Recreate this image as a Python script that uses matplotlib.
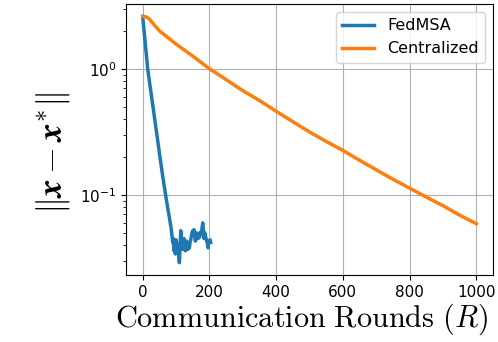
import matplotlib
matplotlib.use('Agg')
import matplotlib.pyplot as plt

# FedMSA: error vs communication rounds
fed_rounds = [0, 5, 10, 15, 20, 25, 30, 35, 40, 45, 50, 55, 60, 65, 70, 75, 80, 85,
              86, 88, 90, 92, 94, 96, 98, 100, 102, 104, 106, 108, 110, 112, 114, 116,
              118, 120, 122, 124, 126, 128, 130, 132, 134, 136, 138, 140, 142, 144,
              146, 148, 150, 152, 154, 156, 158, 160, 162, 164, 166, 168, 170, 172,
              174, 176, 178, 180, 182, 184, 186, 188, 190, 192, 194, 196, 198, 200,
              202, 204]
fed_err = [2.6, 1.9, 1.38, 1.0, 0.80, 0.645, 0.52, 0.417, 0.335, 0.27, 0.216, 0.174,
           0.141, 0.115, 0.095, 0.079, 0.066, 0.055,
           0.052, 0.047, 0.042, 0.045, 0.036, 0.040, 0.034, 0.044, 0.040, 0.037,
           0.041, 0.033, 0.029, 0.038, 0.052, 0.046, 0.040, 0.037, 0.042, 0.045,
           0.039, 0.036, 0.038, 0.043, 0.041, 0.037, 0.040, 0.038, 0.042, 0.044,
           0.047, 0.050, 0.052, 0.049, 0.053, 0.047, 0.043, 0.046, 0.050, 0.048,
           0.045, 0.049, 0.046, 0.048, 0.051, 0.049, 0.055, 0.060, 0.052, 0.045,
           0.050, 0.047, 0.045, 0.043, 0.041, 0.038, 0.043, 0.042, 0.044, 0.042]

# Centralized baseline
cen_rounds = [0, 10, 20, 30, 50, 100, 150, 200, 250, 300, 350, 400, 450, 500, 550,
              600, 650, 700, 750, 800, 850, 900, 950, 1000]
cen_err = [2.6, 2.58, 2.48, 2.3, 2.0, 1.57, 1.26, 1.0, 0.82, 0.67, 0.56, 0.46, 0.38,
           0.315, 0.265, 0.225, 0.188, 0.158, 0.133, 0.113, 0.096, 0.082, 0.069, 0.059]

plt.rcParams['mathtext.fontset'] = 'cm'

fig = plt.figure(figsize=(4.98, 3.42), dpi=100)
ax = fig.add_axes([0.253, 0.196, 0.737, 0.792])

ax.plot(fed_rounds, fed_err, color='#1f77b4', lw=2.5, label='FedMSA')
ax.plot(cen_rounds, cen_err, color='#ff7f0e', lw=2.5, label='Centralized')
ax.set_yscale('log')
ax.grid(True, which='major', color='#b0b0b0', lw=0.8)
ax.tick_params(labelsize=11)

ax.set_xlabel(r'$\mathrm{Communication\ Rounds}\ (R)$', fontsize=21.8)
ax.set_ylabel(r'$\|\boldsymbol{x}-\boldsymbol{x}^{*}\|$', fontsize=25)
ax.xaxis.set_label_coords(0.478, -0.097)
ax.yaxis.set_label_coords(-0.147, 0.452)
ax.legend(loc='upper right', fontsize=11.5)

fig.savefig('out.png', dpi=100)
